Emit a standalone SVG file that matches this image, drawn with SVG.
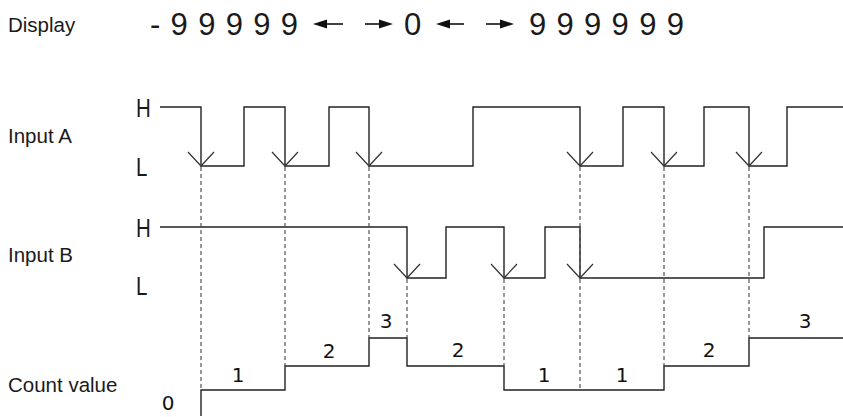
<svg xmlns="http://www.w3.org/2000/svg" width="843" height="417" viewBox="0 0 843 417">
<style>
.lbl{font-family:"Liberation Sans",Arial,sans-serif;font-size:20.5px;fill:#1a1a1a}
.hl{font-family:"Liberation Sans",Arial,sans-serif;font-size:25px;fill:#1a1a1a}
.disp{font-family:"Liberation Sans",Arial,sans-serif;font-size:31px;fill:#1a1a1a;letter-spacing:10.3px}
.cnt{font-family:"DejaVu Sans",Verdana,sans-serif;font-size:20px;fill:#111;text-anchor:middle}
.wave{fill:none;stroke:#222;stroke-width:1.4}
.edge{fill:none;stroke:#333;stroke-width:1.2}
.dash{fill:none;stroke:#444;stroke-width:1.1;stroke-dasharray:4 3}
.arr{fill:#111}
.arrl{stroke:#111;stroke-width:1.6}
</style>
<g id="display">
<text class="lbl" x="8" y="32">Display</text>
<text class="disp" x="150" y="35" font-weight="normal">-99999</text>
<polygon class="arr" points="313,24 327,19.5 327,28.5"/>
<line class="arrl" x1="325" y1="24" x2="343" y2="24"/>
<line class="arrl" x1="365" y1="24" x2="381" y2="24"/>
<polygon class="arr" points="393,24 379,19.5 379,28.5"/>
<text class="disp" x="404" y="35">0</text>
<polygon class="arr" points="436,24 450,19.5 450,28.5"/>
<line class="arrl" x1="448" y1="24" x2="464" y2="24"/>
<line class="arrl" x1="486" y1="24" x2="502" y2="24"/>
<polygon class="arr" points="514,24 500,19.5 500,28.5"/>
<text class="disp" x="529" y="35">999999</text>
</g>
<g id="inputA">
<text class="lbl" x="8" y="143">Input A</text>
<text class="hl" transform="translate(136,117) scale(0.82,1)">H</text>
<text class="hl" transform="translate(136,176) scale(0.82,1)">L</text>
<path class="wave" d="M160,107 H201 V166 H244 V107 H285 V166 H329 V107 H369 V166 H473 V107 H580 V166 H623 V107 H664 V166 H704 V107 H749 V166 H787 V107 H843"/>
<path class="edge" d="M188,152 L201,166 L214,152 M272,152 L285,166 L298,152 M356,152 L369,166 L382,152 M567,152 L580,166 L593,152 M651,152 L664,166 L677,152 M736,152 L749,166 L762,152"/>
</g>
<g id="inputB">
<text class="lbl" x="8" y="262">Input B</text>
<text class="hl" transform="translate(136,237) scale(0.82,1)">H</text>
<text class="hl" transform="translate(136,295) scale(0.82,1)">L</text>
<path class="wave" d="M160,227 H407 V278 H446 V227 H504 V278 H545 V227 H580 V278 H764 V227 H843"/>
<path class="edge" d="M394,264 L407,278 L420,264 M491,264 L504,278 L517,264 M567,264 L580,278 L593,264"/>
</g>
<g id="count">
<text class="lbl" x="8" y="392">Count value</text>
<text class="cnt" x="168" y="410">0</text>
<path class="wave" d="M201,416 V390 H285 V366 H369 V338 H407 V366 H504 V390 H664 V366 H749 V338 H843"/>
<text class="cnt" x="238" y="382">1</text>
<text class="cnt" x="329" y="358">2</text>
<text class="cnt" x="386" y="328">3</text>
<text class="cnt" x="458" y="357">2</text>
<text class="cnt" x="544" y="382">1</text>
<text class="cnt" x="622" y="382">1</text>
<text class="cnt" x="709" y="357">2</text>
<text class="cnt" x="805" y="328">3</text>
</g>
<g id="connectors">
<line class="dash" x1="201" y1="167" x2="201" y2="390"/>
<line class="dash" x1="285" y1="167" x2="285" y2="366"/>
<line class="dash" x1="369" y1="167" x2="369" y2="338"/>
<line class="dash" x1="407" y1="279" x2="407" y2="338"/>
<line class="dash" x1="504" y1="279" x2="504" y2="366"/>
<line class="dash" x1="580" y1="167" x2="580" y2="390"/>
<line class="dash" x1="664" y1="167" x2="664" y2="366"/>
<line class="dash" x1="749" y1="167" x2="749" y2="338"/>
</g>
</svg>
